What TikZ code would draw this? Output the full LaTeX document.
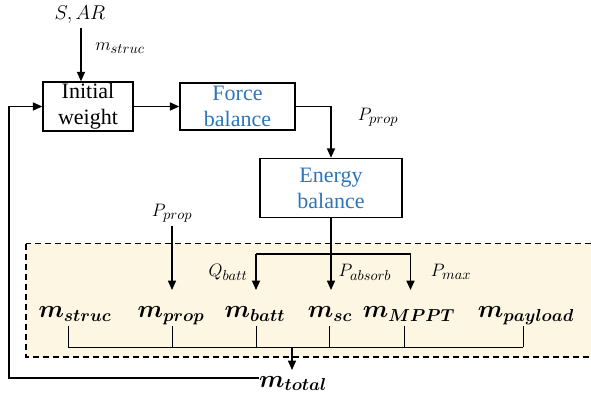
\RequirePackage{fix-cm}
\documentclass[tikz,border=0pt]{standalone}
\usepackage{fontspec}
\usepackage{amsmath,bm}
\setmainfont{Liberation Serif}
\renewcommand{\defaultscriptratio}{.8}
\DeclareMathSizes{18.5}{18.5}{13}{9}
\usetikzlibrary{arrows.meta}
\definecolor{boxblue}{RGB}{46,117,182}
\definecolor{panel}{RGB}{253,246,227}
\begin{document}
\begin{tikzpicture}[x=0.75pt,y=-0.75pt,
  block/.style={draw, line width=1.1pt, align=center, inner sep=0pt,
    font=\fontsize{16.5}{19.5}\selectfont},
  flow/.style={line width=1.1pt, -{Triangle[length=7pt,width=6pt]}},
  lab/.style={inner sep=0pt, font=\fontsize{13.5}{16}\selectfont},
  mass/.style={inner sep=0pt, anchor=base, font=\fontsize{18.5}{22}\selectfont},
  tie/.style={line width=0.7pt}]
\useasboundingbox (0,0) rectangle (591,399);

% shaded panel holding the mass components
\draw[dash pattern=on 4.5pt off 3pt, line width=0.9pt, fill=panel]
  (26,243.5) rectangle (610,357);

% process blocks
\node[block, minimum width=67.5pt, minimum height=36.75pt] (init) at (88,106.5) {Initial\\weight};
\node[block, text=boxblue, minimum width=86.25pt, minimum height=35pt] (force) at (237.5,106.5) {Force\\balance};
\node[block, text=boxblue, minimum width=106.5pt, minimum height=44.25pt] (energy) at (331,188) {Energy\\balance};

% inputs
\node[inner sep=0pt, font=\fontsize{15}{18}\selectfont] (sar) at (80,15) {$S,AR$};
\node[lab] at (120,48) {$m_{struc}$};
\draw[flow] (sar.south) ++(1,4) coordinate (sarfoot) -- (sarfoot |- init.north);

\draw[flow] (init.east) -- (force.west);
\draw[flow] (force.east) -| (energy.north);
\node[lab] at (378,117) {$P_{prop}$};

% mass components
\node[mass] (mstruc) at (75,317.5) {$\bm{m_{struc}}$};
\node[mass] (mprop) at (171,317.5) {$\bm{m_{prop}}$};
\node[mass] (mbatt) at (255,317.5) {$\bm{m_{batt}}$};
\node[mass] (msc) at (330,317.5) {$\bm{m_{sc}}$};
\node[mass] (mmppt) at (409,317.5) {$\bm{m_{MPPT}}$};
\node[mass] (mpay) at (526,317.5) {$\bm{m_{payload}}$};
\node[mass] (mtot) at (293,387) {$\bm{m_{total}}$};

% propulsion power into m_prop
\node[lab] (pprop) at (172,213) {$P_{prop}$};
\coordinate (propin) at (172,290);
\draw[flow] (pprop.south) ++(0,4) -- (propin);

% energy balance outputs
\coordinate (split) at (331,254);
\coordinate (qleft) at (256,254);
\coordinate (pright) at (410.5,254);
\coordinate (battin) at (256,290);
\coordinate (scin) at (331,290);
\coordinate (mpptin) at (410.5,290);
\draw[line width=1.1pt] (energy.south) -- (split);
\draw[flow] (split) -- (scin);
\draw[flow] (qleft) -- (pright) -- (mpptin);
\draw[flow] (qleft) -- (battin);
\node[lab] at (228,272) {$Q_{batt}$};
\node[lab] at (365,272) {$P_{absorb}$};
\node[lab] at (451,272) {$P_{max}$};

% summation bus
\coordinate (b1) at (68,347);
\coordinate (b2) at (172,347);
\coordinate (b3) at (256,347);
\coordinate (b4) at (329,347);
\coordinate (b5) at (404,347);
\coordinate (b6) at (523,347);
\coordinate (bus) at (292,347);
\draw[tie] (b1) -- (b6);
\foreach \b in {b1,b2,b3,b4,b5,b6} \draw[tie] (\b) -- ++(0,-21);
\draw[flow] (bus) -- ++(0,23);

% feedback of total mass to the initial weight
\coordinate (fb) at (9,378);
\draw[flow] (mtot.west |- fb) -- (fb) |- (init.west);
\end{tikzpicture}
\end{document}
